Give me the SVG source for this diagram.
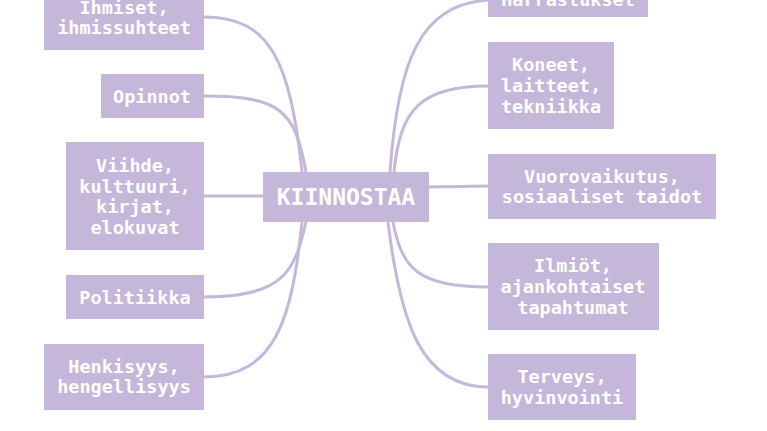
<svg xmlns="http://www.w3.org/2000/svg" width="767" height="431" viewBox="0 0 767 431">
<style>
.b{fill:#c4b7da}
.t{font-family:"DejaVu Sans Mono","Liberation Mono",monospace;font-weight:bold;font-size:18.5px;fill:#fff;text-anchor:middle}
.c{fill:none;stroke:#c4b7da;stroke-width:3}
</style>
<rect width="767" height="431" fill="#fff"/>
<g id="connectors">
<path class="c" d="M204,17 C270,17 290,60 302,172"/>
<path class="c" d="M204,96 C280,96 295,110 306,172"/>
<path class="c" d="M204,196 L263,196"/>
<path class="c" d="M204,297 C285,297 295,270 306,222"/>
<path class="c" d="M204,377 C275,377 292,320 302,222"/>
<path class="c" d="M488,0 C420,5 398,60 390,172"/>
<path class="c" d="M488,86 C420,86 400,110 394,172"/>
<path class="c" d="M429,187 L488,186"/>
<path class="c" d="M488,287 C420,287 402,270 393,222"/>
<path class="c" d="M488,387 C420,387 400,320 388,222"/>
</g>
<g id="center"><rect class="b" x="263" y="172" width="166" height="50"/><text class="t" x="346" y="205" style="font-size:23px">KIINNOSTAA</text></g>
<g id="ihmiset"><rect class="b" x="44" y="-20" width="160" height="70"/><text class="t" x="124" y="14">Ihmiset,</text><text class="t" x="124" y="34">ihmissuhteet</text></g>
<g id="opinnot"><rect class="b" x="101" y="74" width="103" height="44"/><text class="t" x="152" y="103">Opinnot</text></g>
<g id="viihde"><rect class="b" x="66" y="142" width="138" height="108"/><text class="t" x="135" y="172">Viihde,</text><text class="t" x="135" y="193">kulttuuri,</text><text class="t" x="135" y="213">kirjat,</text><text class="t" x="135" y="234">elokuvat</text></g>
<g id="politiikka"><rect class="b" x="66" y="275" width="138" height="44"/><text class="t" x="135" y="304">Politiikka</text></g>
<g id="henkisyys"><rect class="b" x="44" y="344" width="160" height="66"/><text class="t" x="124" y="373">Henkisyys,</text><text class="t" x="124" y="393">hengellisyys</text></g>
<g id="harrastukset"><rect class="b" x="488" y="-30" width="160" height="47"/><text class="t" x="568" y="6">Harrastukset</text></g>
<g id="koneet"><rect class="b" x="488" y="42" width="126" height="87"/><text class="t" x="551" y="71">Koneet,</text><text class="t" x="551" y="92">laitteet,</text><text class="t" x="551" y="113">tekniikka</text></g>
<g id="vuorovaikutus"><rect class="b" x="488" y="154" width="228" height="65"/><text class="t" x="602" y="183">Vuorovaikutus,</text><text class="t" x="602" y="203">sosiaaliset taidot</text></g>
<g id="ilmiot"><rect class="b" x="488" y="243" width="171" height="87"/><text class="t" x="573" y="272">Ilmiöt,</text><text class="t" x="573" y="293">ajankohtaiset</text><text class="t" x="573" y="314">tapahtumat</text></g>
<g id="terveys"><rect class="b" x="488" y="354" width="148" height="66"/><text class="t" x="562" y="383">Terveys,</text><text class="t" x="562" y="404">hyvinvointi</text></g>
</svg>
